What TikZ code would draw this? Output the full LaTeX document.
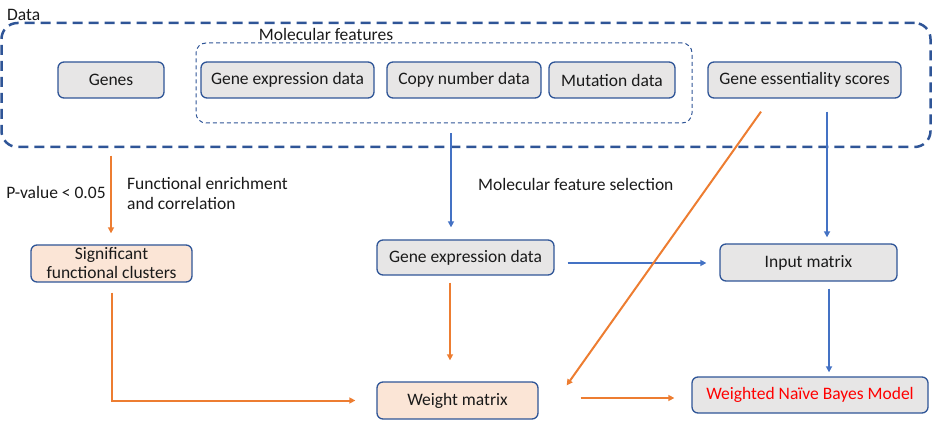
\documentclass[tikz,border=0pt]{standalone}
\usepackage{fontspec}
\setmainfont{Carlito}
\usetikzlibrary{arrows.meta}
\definecolor{bord}{HTML}{2F5597}
\definecolor{gfill}{HTML}{E7E6E6}
\definecolor{pfill}{HTML}{FBE5D6}
\definecolor{org}{HTML}{ED7D31}
\definecolor{blu}{HTML}{4472C4}
\definecolor{redtxt}{HTML}{FF0000}
\definecolor{txt}{HTML}{1A1A1A}
\begin{document}
\begin{tikzpicture}[x=1pt,y=-1pt, font=\fontsize{17.5}{20}\selectfont, text=txt,
 box/.style={draw=bord, line width=1.3pt, rounded corners=6pt, fill=gfill, inner sep=0pt, align=center},
 obox/.style={box, fill=pfill},
 oarr/.style={draw=org, line width=2pt, -{Triangle[length=6pt,width=6pt]}},
 barr/.style={draw=blu, line width=2pt, -{Triangle[length=6pt,width=6pt]}},
 lbl/.style={inner sep=0pt}]
\useasboundingbox (0,0) rectangle (933,435);
% frames
\node[draw=bord, line width=2.5pt, dash pattern=on 10pt off 6pt, rounded corners=16pt, minimum width=929pt, minimum height=124pt, inner sep=0pt] (data) at (466,85) {};
\node[draw=bord, line width=1pt, dash pattern=on 4pt off 3pt, rounded corners=10pt, minimum width=496pt, minimum height=80pt, inner sep=0pt] (mf) at (444,83) {};
\node[lbl, anchor=west] (datalbl) at (7,15) {Data};
\node[lbl] (mflbl) at (326,34) {Molecular features};
% top row
\node[box, minimum width=106pt, minimum height=36pt] (genes) at (111,80) {Genes};
\node[box, minimum width=173pt, minimum height=36pt] (gexp) at (287.5,80) {Gene expression data};
\node[box, minimum width=154pt, minimum height=36pt] (copy) at (464,80) {Copy number data};
\node[box, minimum width=126pt, minimum height=36pt] (mut) at (612,80) {Mutation data};
\node[box, minimum width=193pt, minimum height=36pt] (ess) at (804.5,80) {Gene essentiality scores};
% middle row
\node[obox, minimum width=161pt, minimum height=37pt, font=\fontsize{17.5}{19}\selectfont] (sig) at (111.5,263.5) {Significant\\functional clusters};
\node[box, minimum width=177pt, minimum height=35pt] (gexp2) at (465.5,257.5) {Gene expression data};
\node[box, minimum width=177pt, minimum height=37pt] (input) at (808.5,262.5) {Input matrix};
% bottom row
\node[obox, minimum width=161pt, minimum height=37pt] (weight) at (457.5,400.5) {Weight matrix};
\node[box, minimum width=236pt, minimum height=36pt, text=redtxt] (wnb) at (810,395) {Weighted Naïve Bayes Model};
% labels
\node[lbl] (pval) at (56,192) {P-value < 0.05};
\node[lbl, anchor=west, align=left] (fe) at (127,193) {Functional enrichment\\and correlation};
\node[lbl, anchor=west] (mfs) at (478,184) {Molecular feature selection};
% connectors
\draw[oarr, shorten <=57pt, shorten >=11pt] (genes.south) -- (genes.south |- sig.north);
\draw[barr, shorten <=10pt, shorten >=12pt] ([xshift=7pt]mf.south) -- ([xshift=7pt]mf.south |- gexp2.north);
\draw[barr, shorten <=13pt, shorten >=13pt] ([yshift=-5.5pt]gexp2.east) -- ([yshift=-5.5pt]gexp2.east -| input.west);
\draw[barr, shorten <=13pt, shorten >=6pt] ([xshift=22.5pt]ess.south) -- ([xshift=22.5pt]ess.south |- input.north);
\draw[barr, shorten <=7pt, shorten >=4pt] ([xshift=20.5pt]input.south) -- ([xshift=20.5pt]input.south |- wnb.north);
\draw[oarr, shorten <=7pt, shorten >=21pt] ([xshift=-15.5pt]gexp2.south) -- ([xshift=-15.5pt]gexp2.south |- weight.north);
\draw[oarr] ([xshift=-43.5pt,yshift=-13pt]ess.south) -- ([xshift=28pt,yshift=-4pt]weight.north east);
\draw[oarr, shorten <=42pt, shorten >=17pt] ([yshift=2.5pt]weight.east) -- ([yshift=2.5pt]weight.east -| wnb.west);
\draw[oarr, shorten <=10pt, shorten >=21pt] (sig.south) |- (weight.west);
\end{tikzpicture}
\end{document}
